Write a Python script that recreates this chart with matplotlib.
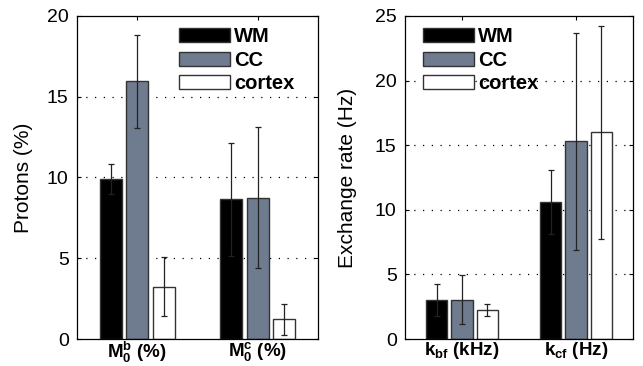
import matplotlib.pyplot as plt
import numpy as np

plt.rcParams['font.family'] = ['Liberation Sans', 'DejaVu Sans']
plt.rcParams['mathtext.fontset'] = 'custom'
plt.rcParams['mathtext.rm'] = 'Liberation Sans'
plt.rcParams['mathtext.it'] = 'Liberation Sans'
plt.rcParams['mathtext.bf'] = 'Liberation Sans:bold'

# data
tissues = ["WM", "CC", "cortex"]
colors = ["#000000", "#6f7b8e", "#ffffff"]

protons_labels = [r"$\mathbf{M_0^b}$ (%)", r"$\mathbf{M_0^c}$ (%)"]
protons_mean = {"WM": [9.9, 8.65], "CC": [15.95, 8.75], "cortex": [3.25, 1.22]}
protons_err = {"WM": [0.95, 3.5], "CC": [2.9, 4.35], "cortex": [1.85, 0.95]}

rate_labels = [r"$\mathbf{k_{bf}}$ (kHz)", r"$\mathbf{k_{cf}}$ (Hz)"]
rate_mean = {"WM": [3.0, 10.6], "CC": [3.05, 15.3], "cortex": [2.25, 16.0]}
rate_err = {"WM": [1.25, 2.5], "CC": [1.9, 8.4], "cortex": [0.45, 8.25]}


def bar_panel(ax, labels, means, errs, ymax, ylabel, ylabel_x, legend_anchor):
    x = np.arange(1, len(labels) + 1)
    width = 0.185
    step = 0.22
    for i, t in enumerate(tissues):
        ax.bar(x + (i - 1) * step, means[t], width, color=colors[i],
               edgecolor="#333333", linewidth=1.0, label=t, zorder=2)
        ax.errorbar(x + (i - 1) * step, means[t], yerr=errs[t], fmt="none",
                    ecolor="#222222", elinewidth=0.9, capsize=2.5,
                    capthick=0.9, zorder=3)
    ax.set_xlim(0.5, len(labels) + 0.5)
    ax.set_ylim(0, ymax)
    ax.set_yticks(np.arange(0, ymax + 1, 5))
    ax.set_xticks(x)
    ax.set_xticklabels(labels, fontsize=13.5, fontweight="bold")
    ax.set_ylabel(ylabel, fontsize=15)
    ax.yaxis.set_label_coords(ylabel_x, 0.5)
    ax.tick_params(axis="y", labelsize=14, pad=6)
    ax.tick_params(axis="x", pad=1)
    ax.tick_params(direction="in", top=True, right=True, length=3)
    for yv in np.arange(5, ymax, 5):
        ax.axhline(yv, color="black", linestyle=(0, (1, 6)), linewidth=0.9,
                   zorder=1)
    for s in ax.spines.values():
        s.set_linewidth(0.9)
    leg = ax.legend(loc="upper left", bbox_to_anchor=legend_anchor,
                    frameon=False, fontsize=14.5, handlelength=2.55,
                    handleheight=0.7, handletextpad=0.2, labelspacing=0.22,
                    borderaxespad=0, borderpad=0)
    for txt in leg.get_texts():
        txt.set_fontweight("bold")


fig = plt.figure(figsize=(6.43, 3.66), dpi=100)
ax1 = fig.add_axes([77 / 643, 27 / 366, 241 / 643, 323 / 366])
ax2 = fig.add_axes([405 / 643, 27 / 366, 228 / 643, 323 / 366])

bar_panel(ax1, protons_labels, protons_mean, protons_err, 20, "Protons (%)",
          -0.183, (0.423, 0.965))
bar_panel(ax2, rate_labels, rate_mean, rate_err, 25, "Exchange rate (Hz)",
          -0.21, (0.079, 0.965))

fig.savefig("out.png", dpi=100)
